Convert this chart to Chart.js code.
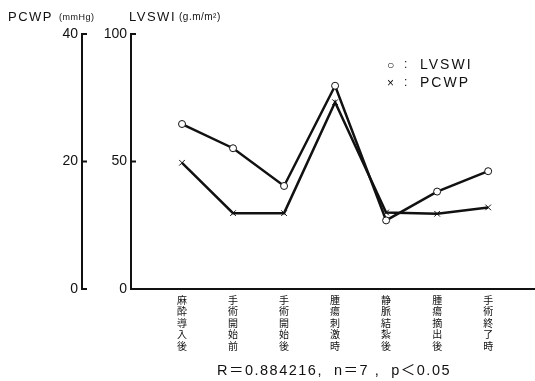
<!DOCTYPE html>
<html>
<head>
<meta charset="utf-8">
<script src="https://cdn.jsdelivr.net/npm/chart.js@4"></script>
<style>
  html, body { margin: 0; padding: 0; background: #fff; }
  #wrap { width: 535px; height: 381px; position: relative; }
</style>
</head>
<body>
<div id="wrap"><canvas id="chart"></canvas></div>
<script>
const categories = ['麻酔導入後', '手術開始前', '手術開始後', '腫瘍刺激時', '静脈結紮後', '腫瘍摘出後', '手術終了時'];
const lvswi = [64.7, 55.2, 40.4, 79.7, 26.9, 38.2, 46.2];
const pcwp = [19.8, 11.9, 11.9, 29.3, 12.0, 11.8, 12.8];
const pcwpTicks = [0, 20, 40];
const lvswiTicks = [0, 50, 100];
const statsText = 'R＝0.884216,  n＝7 ,  p＜0.05';

const latin = '"Liberation Sans", Arial, sans-serif';
const cjk = '"Noto Sans CJK JP", sans-serif';

function toPoints(values) {
    return values.map((v, i) => ({ x: i + 1, y: v }));
}

// tick marks point inward, plus the free-standing titles, legend and stats line
const decorations = {
    id: 'decorations',
    afterDraw(chart) {
        const ctx = chart.ctx;
        const yP = chart.scales.yP;
        const yL = chart.scales.yL;
        const area = chart.chartArea;
        ctx.save();
        ctx.strokeStyle = '#111';
        ctx.lineWidth = 2;
        // x axis line runs on to the right edge
        ctx.beginPath();
        ctx.moveTo(area.right - 1, area.bottom);
        ctx.lineTo(chart.width, area.bottom);
        ctx.stroke();
        pcwpTicks.forEach(v => {
            const y = yP.getPixelForValue(v);
            ctx.beginPath();
            ctx.moveTo(yP.right, y);
            ctx.lineTo(yP.right + 5, y);
            ctx.stroke();
        });
        lvswiTicks.slice(1).forEach(v => {
            const y = yL.getPixelForValue(v);
            ctx.beginPath();
            ctx.moveTo(yL.right, y);
            ctx.lineTo(yL.right + 5, y);
            ctx.stroke();
        });

        ctx.fillStyle = '#111';
        ctx.textBaseline = 'alphabetic';
        ctx.textAlign = 'left';
        ctx.letterSpacing = '1.5px';
        ctx.font = '13px ' + latin;
        ctx.fillText('PCWP', 8, 21);
        ctx.fillText('LVSWI', 129, 21);
        ctx.letterSpacing = '0.5px';
        ctx.font = '9px ' + latin;
        ctx.fillText('(mmHg)', 59, 20);
        ctx.font = '10px ' + latin;
        ctx.fillText('(g.m/m²)', 179, 20);

        // legend
        const ds = chart.data.datasets;
        ds.forEach((d, i) => {
            const y = 69 + i * 18;
            ctx.letterSpacing = '0px';
            ctx.font = '12px ' + latin;
            ctx.fillText(i === 0 ? '○' : '×', 387, y);
            ctx.fillText(':', 404, y - 1);
            ctx.letterSpacing = '2px';
            ctx.font = '14px ' + latin;
            ctx.fillText(d.label, 420, y);
        });

        ctx.letterSpacing = '1.5px';
        ctx.font = '14.5px ' + latin + ', ' + cjk;
        ctx.textAlign = 'center';
        ctx.fillText(statsText, 334, 375);
        ctx.restore();
    }
};

new Chart(document.getElementById('chart'), {
    type: 'line',
    data: {
        datasets: [
            {
                label: 'LVSWI',
                data: toPoints(lvswi),
                yAxisID: 'yL',
                borderColor: '#111',
                borderWidth: 2.5,
                pointStyle: 'circle',
                pointRadius: 3.5,
                pointBorderWidth: 1,
                pointBackgroundColor: '#fff',
                pointBorderColor: '#111',
                tension: 0
            },
            {
                label: 'PCWP',
                data: toPoints(pcwp),
                yAxisID: 'yP',
                borderColor: '#111',
                borderWidth: 2.5,
                pointStyle: 'crossRot',
                pointRadius: 4,
                pointBorderWidth: 1,
                pointBackgroundColor: '#fff',
                pointBorderColor: '#111',
                tension: 0
            }
        ]
    },
    options: {
        responsive: true,
        maintainAspectRatio: false,
        animation: false,
        layout: { padding: { left: 52, top: 34, right: 0, bottom: 0 } },
        plugins: {
            legend: { display: false },
            tooltip: { enabled: false }
        },
        scales: {
            x: {
                type: 'linear',
                min: 0,
                max: 7.82,
                afterBuildTicks(scale) {
                    scale.ticks = categories.map((c, i) => ({ value: i + 1 }));
                },
                afterFit(scale) { scale.height = 92; },
                grid: { drawOnChartArea: false, drawTicks: false },
                border: { color: '#111', width: 2 },
                ticks: {
                    autoSkip: false,
                    maxRotation: 0,
                    padding: 5,
                    color: '#111',
                    font: { family: cjk, size: 10, lineHeight: 1.15 },
                    callback: (v) => categories[v - 1] ? categories[v - 1].split('') : ''
                }
            },
            yP: {
                position: 'left',
                weight: 1,
                min: 0,
                max: 40,
                afterBuildTicks(scale) {
                    scale.ticks = pcwpTicks.map(v => ({ value: v }));
                },
                afterFit(scale) { scale.width = 30; },
                grid: { drawOnChartArea: false, drawTicks: false },
                border: { color: '#111', width: 2 },
                ticks: { padding: 4, color: '#111', font: { family: latin, size: 14 } }
            },
            yL: {
                position: 'left',
                weight: 0,
                min: 0,
                max: 100,
                afterBuildTicks(scale) {
                    scale.ticks = lvswiTicks.map(v => ({ value: v }));
                },
                afterFit(scale) { scale.width = 49; },
                grid: { drawOnChartArea: false, drawTicks: false },
                border: { color: '#111', width: 2 },
                ticks: { padding: 4, color: '#111', font: { family: latin, size: 14 } }
            }
        }
    },
    plugins: [decorations]
});
</script>
</body>
</html>
